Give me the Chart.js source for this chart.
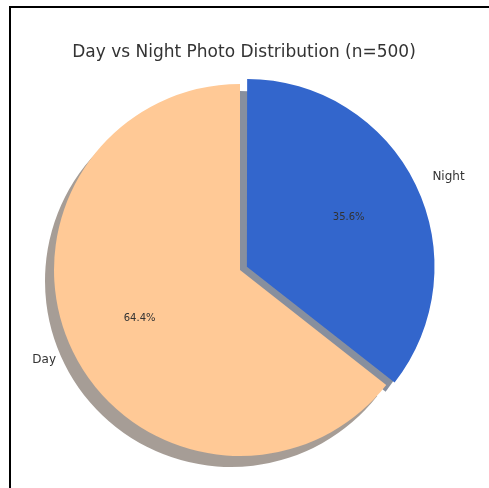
<!DOCTYPE html>
<html>
<head>
<meta charset="utf-8">
<script src="https://cdn.jsdelivr.net/npm/chart.js@4/dist/chart.umd.min.js"></script>
<style>
    html, body { margin: 0; padding: 0; background: #fff; }
    #wrap { position: relative; width: 489px; height: 488px; overflow: hidden; }
    #frame {
        position: absolute; left: 9px; top: 6px; width: 600px; height: 600px;
        border-left: 2px solid #000; border-top: 2px solid #000;
    }
    canvas { position: absolute; left: 0; top: 0; }
</style>
</head>
<body>
<div id="wrap">
    <canvas id="pie" width="489" height="488"></canvas>
    <div id="frame"></div>
</div>
<script>
// photo counts (n = 500), listed clockwise from 12 o'clock
const categories = ['Night', 'Day'];
const photoCounts = [178, 322];
const sliceColors = ['#3366cc', '#ffc996'];
const explodeFrac = [0.05, 0];

const TITLE = 'Day vs Night Photo Distribution (n=500)';
const RADIUS = 186;
const SHADOW_DX = -9, SHADOW_DY = 11;
const total = photoCounts.reduce((a, b) => a + b, 0);

// same translation the arc element applies for its `offset` option
function arcShift(arc) {
    const offset = (arc.options.offset || 0) / 4;
    const fix = 1 - Math.sin(Math.min(Math.PI, arc.circumference || 0));
    const d = offset * (1 + fix);
    const half = (arc.startAngle + arc.endAngle) / 2;
    return { x: Math.cos(half) * d, y: Math.sin(half) * d, half: half };
}

// offset value giving a shift of frac * radius for a slice
function offsetFor(frac, value) {
    const circ = value / total * Math.PI * 2;
    const fix = 1 - Math.sin(Math.min(Math.PI, circ));
    return frac * RADIUS * 4 / (1 + fix);
}

function shadowColor(hex) {
    // darkened face colour at half alpha
    const n = parseInt(hex.slice(1), 16);
    const r = (n >> 16) & 255, g = (n >> 8) & 255, b = n & 255;
    return `rgba(${Math.round(r * 0.3)},${Math.round(g * 0.3)},${Math.round(b * 0.3)},0.5)`;
}

const pieExtras = {
    id: 'pieExtras',
    beforeDatasetsDraw(chart) {
        const ctx = chart.ctx;
        const arcs = chart.getDatasetMeta(0).data;
        arcs.forEach((arc, i) => {
            const s = arcShift(arc);
            ctx.save();
            ctx.translate(s.x + SHADOW_DX, s.y + SHADOW_DY);
            ctx.beginPath();
            ctx.moveTo(arc.x, arc.y);
            ctx.arc(arc.x, arc.y, arc.outerRadius, arc.startAngle, arc.endAngle);
            ctx.closePath();
            ctx.fillStyle = shadowColor(sliceColors[i]);
            ctx.fill();
            ctx.restore();
        });
    },
    afterDatasetsDraw(chart) {
        const ctx = chart.ctx;
        const arcs = chart.getDatasetMeta(0).data;
        ctx.save();
        ctx.textBaseline = 'middle';
        arcs.forEach((arc, i) => {
            const s = arcShift(arc);
            const cx = arc.x + s.x, cy = arc.y + s.y;
            const cos = Math.cos(s.half), sin = Math.sin(s.half);
            const r = arc.outerRadius;

            // category name outside the slice
            ctx.font = '12px "DejaVu Sans"';
            ctx.fillStyle = '#333';
            ctx.textAlign = cos < 0 ? 'right' : 'left';
            ctx.fillText(categories[i], cx + cos * r * 1.1, cy + sin * r * 1.1);

            // percentage inside
            ctx.font = '10px "DejaVu Sans"';
            ctx.fillStyle = '#333';
            ctx.textAlign = 'center';
            const pct = (photoCounts[i] / total * 100).toFixed(1) + '%';
            ctx.fillText(pct, cx + cos * r * 0.6, cy + sin * r * 0.6);
        });
        ctx.restore();
    },
    afterDraw(chart) {
        const ctx = chart.ctx;
        ctx.save();
        ctx.font = '17px "DejaVu Sans"';
        ctx.fillStyle = '#333';
        ctx.textAlign = 'center';
        ctx.textBaseline = 'alphabetic';
        ctx.fillText(TITLE, 244, 57);
        ctx.restore();
    }
};

new Chart(document.getElementById('pie'), {
    type: 'pie',
    data: {
        labels: categories,
        datasets: [{
            data: photoCounts,
            backgroundColor: sliceColors,
            borderWidth: 0,
            offset: photoCounts.map((v, i) => offsetFor(explodeFrac[i], v))
        }]
    },
    options: {
        responsive: false,
        animation: false,
        events: [],
        radius: RADIUS,
        layout: { padding: { left: 0, right: 9, top: 52, bottom: 0 } },
        plugins: {
            legend: { display: false },
            title: { display: false },
            tooltip: { enabled: false }
        }
    },
    plugins: [pieExtras]
});
</script>
</body>
</html>
